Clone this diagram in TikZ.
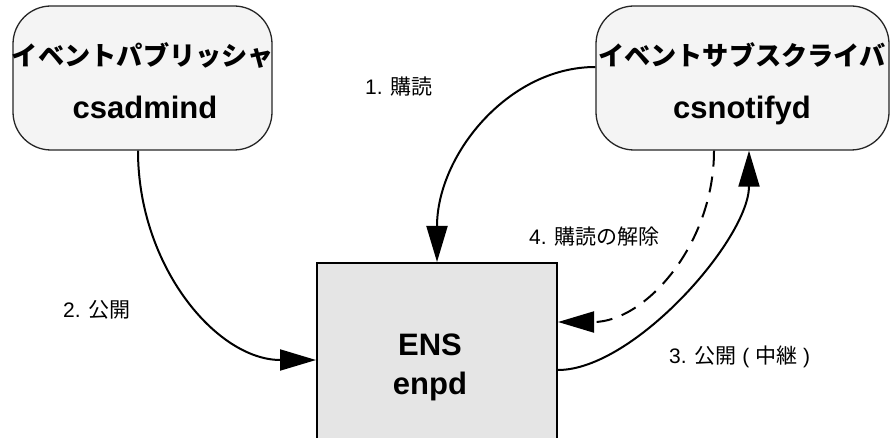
\documentclass[tikz,border=0pt]{standalone}
\usepackage{fontspec}
\setmainfont{Liberation Sans}
\newfontfamily\cjk{Noto Sans CJK JP}
\usetikzlibrary{arrows.meta}
\definecolor{boxfill}{HTML}{F4F4F4}
\definecolor{ensfill}{HTML}{E5E5E5}
\tikzset{
  proc/.style={draw=black!85, line width=1.3pt, fill=boxfill, rounded corners=38pt, inner sep=0pt},
  ensbox/.style={draw=black, line width=2pt, fill=ensfill, inner sep=0pt},
  jtitle/.style={anchor=base, inner sep=0pt, font=\fontsize{26.2}{30}\selectfont\bfseries\cjk},
  ltitle/.style={anchor=base, inner sep=0pt, font=\fontsize{31}{35}\selectfont\bfseries},
  lab/.style={anchor=base west, inner sep=0pt, font=\fontsize{21}{25}\selectfont},
  flow/.style={line width=2pt, -{Triangle[length=36pt,width=21pt]}},
}
\begin{document}
\begin{tikzpicture}[x=1pt,y=-1pt]
\clip (0,0) rectangle (893,438);
\fill[white] (0,0) rectangle (893,438);
% boxes
\node[proc, minimum width=259pt, minimum height=144pt] (pub) at (142.5,78) {};
\node[proc, minimum width=293pt, minimum height=144pt] (sub) at (742.5,78) {};
\node[ensbox, minimum width=240pt, minimum height=182pt] (ens) at (437,354) {};
% box texts
\node[jtitle] (pubA) at (143,66) {イベントパブリッシャ};
\node[ltitle] (pubB) at (145,119) {csadmind};
\node[jtitle] (subA) at (742,66) {イベントサブスクライバ};
\node[ltitle] (subB) at (742,119) {csnotifyd};
\node[ltitle] (ensA) at (430,355) {ENS};
\node[ltitle] (ensB) at (430,394) {enpd};
% labels
\node[lab] (l1) at (365,95) {1. {\cjk 購読}};
\node[lab] (l2) at (63,317) {2. {\cjk 公開}};
\node[lab] (l3) at (669,363) {3. {\cjk 公開} ( {\cjk 中継} )};
\node[lab] (l4) at (529,244) {4. {\cjk 購読の解除}};
% connectors
\draw[flow] ([yshift=11pt]sub.west) .. controls +(-87,0) and +(0,-107) .. (ens.north);
\draw[flow] ([xshift=-4.5pt]pub.south) .. controls +(0,116) and +(-99,0) .. ([yshift=-6pt]ens.west);
\draw[flow] ([yshift=-16pt]ens.east) .. controls +(76,0) and +(0,88) .. ([xshift=6.5pt]sub.south);
\draw[flow, dash pattern=on 16pt off 10pt] ([xshift=-28.5pt]sub.south) .. controls +(0,94) and +(87,0) .. ([yshift=32pt]ens.east);
\end{tikzpicture}
\end{document}
